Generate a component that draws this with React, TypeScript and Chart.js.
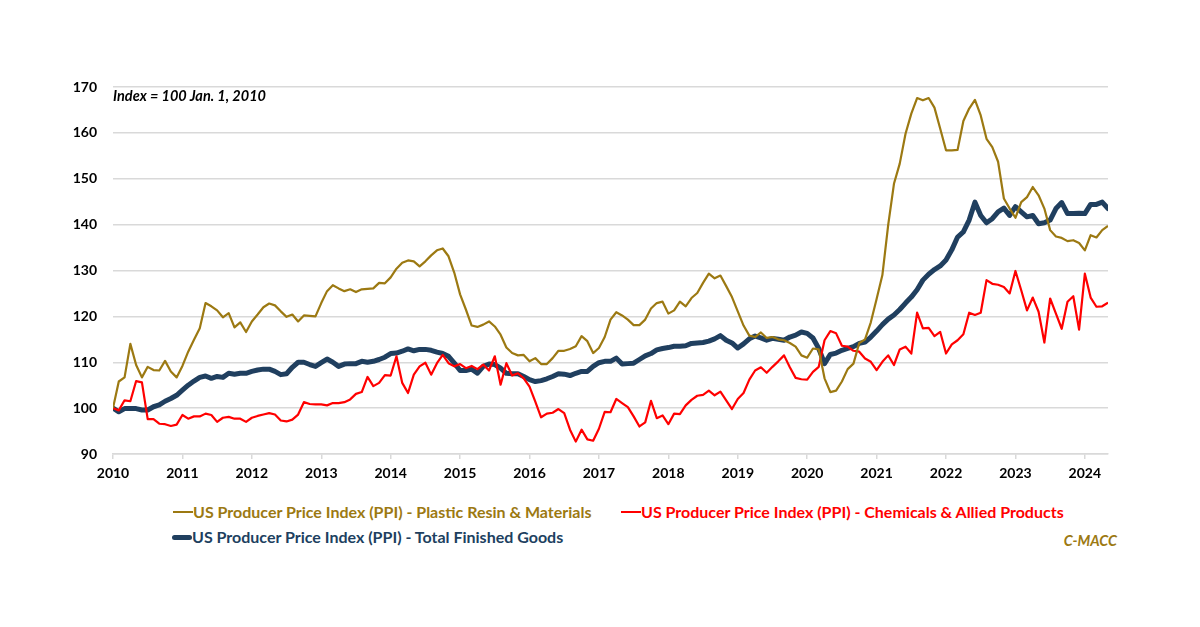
import React, { useEffect, useRef } from "react";
import Chart from "chart.js/auto";

// Monthly index values, Jan 2010 .. May 2024 (Index = 100 Jan. 1, 2010)
const START_YEAR = 2010;
const yearLabels = [2010, 2011, 2012, 2013, 2014, 2015, 2016, 2017, 2018, 2019, 2020, 2021, 2022, 2023, 2024];

const resinValues = [
  100.0, 105.8, 106.7, 114.0, 109.4, 106.7, 109.0, 108.3, 108.2, 110.3, 108.0, 106.7,
  109.2, 112.3, 114.9, 117.4, 122.9, 122.2, 121.3, 119.8, 120.7, 117.6, 118.7, 116.6,
  118.9, 120.4, 122.0, 122.8, 122.4, 121.1, 119.9, 120.4, 118.9, 120.2, 120.1, 120.0,
  122.9, 125.5, 126.8, 126.1, 125.5, 125.9, 125.3, 125.9, 126.0, 126.1, 127.3, 127.2,
  128.5, 130.4, 131.7, 132.2, 132.0, 130.9, 132.0, 133.3, 134.4, 134.8, 133.1, 129.5,
  124.8, 121.5, 118.0, 117.7, 118.2, 118.9, 117.8, 116.0, 113.2, 112.0, 111.5, 111.6,
  110.2, 110.9, 109.6, 109.6, 110.9, 112.5, 112.5, 112.9, 113.5, 115.7, 114.6, 112.0,
  113.1, 115.5, 119.3, 120.9, 120.2, 119.3, 118.1, 118.1, 119.3, 121.7, 122.9, 123.2,
  120.6, 121.3, 123.2, 122.2, 124.0, 125.1, 127.3, 129.3, 128.3, 128.9, 126.6, 124.2,
  121.1, 118.0, 115.8, 115.5, 116.5, 115.3, 115.5, 115.0, 114.8, 114.2, 113.4, 111.5,
  111.0, 113.0, 112.8, 106.5, 103.5, 103.8, 105.8, 108.5, 109.7, 114.2, 115.0, 118.7,
  123.8, 129.0, 139.9, 148.9, 153.3, 159.8, 164.2, 167.6, 167.1, 167.6, 165.5, 160.9,
  156.2, 156.2, 156.3, 162.6, 165.3, 167.2, 163.8, 158.7, 156.9, 153.7, 145.7, 143.5,
  141.5, 144.9, 146.0, 148.2, 146.4, 143.5, 138.8, 137.4, 137.1, 136.4, 136.6, 136.0,
  134.4, 137.7, 137.2, 138.8, 139.7,
];

const chemicalsValues = [
  100.0, 99.5, 101.7, 101.5, 105.9, 105.6, 97.6, 97.6, 96.6, 96.5, 96.1, 96.4,
  98.5, 97.7, 98.2, 98.2, 98.8, 98.5, 97.0, 97.9, 98.1, 97.7, 97.7, 97.0,
  97.9, 98.3, 98.6, 98.9, 98.6, 97.3, 97.1, 97.5, 98.6, 101.3, 100.9, 100.8,
  100.8, 100.6, 101.1, 101.1, 101.3, 101.9, 103.1, 103.5, 106.8, 104.8, 105.5, 107.2,
  107.1, 111.3, 105.5, 103.3, 107.3, 109.1, 109.9, 107.3, 109.8, 111.6, 109.8, 109.1,
  109.6, 108.7, 109.2, 108.5, 109.5, 108.2, 111.3, 105.1, 109.8, 107.1, 107.6, 106.5,
  104.7, 101.4, 98.0, 98.8, 99.0, 99.8, 98.9, 95.3, 92.7, 95.3, 93.2, 92.9,
  95.5, 99.2, 99.1, 102.0, 101.1, 100.2, 98.2, 96.0, 96.9, 101.6, 97.8, 98.4,
  96.5, 98.8, 98.7, 100.6, 101.8, 102.7, 102.9, 103.8, 102.8, 103.6, 101.7, 99.8,
  102.0, 103.3, 106.2, 108.2, 108.9, 107.7, 109.0, 110.2, 111.5, 108.9, 106.6, 106.3,
  106.2, 107.9, 109.0, 114.8, 116.8, 116.3, 113.6, 113.4, 112.5, 112.3, 110.8, 110.1,
  108.3, 110.1, 111.5, 109.4, 112.8, 113.4, 111.9, 120.8, 117.4, 117.5, 115.7, 116.6,
  111.9, 113.9, 114.8, 116.1, 120.8, 120.3, 120.8, 127.9, 127.1, 126.9, 126.4, 125.0,
  129.9, 125.7, 121.3, 124.1, 121.0, 114.3, 123.9, 120.6, 117.3, 123.2, 124.4, 117.1,
  129.3, 124.1, 122.1, 122.2, 123.0,
];

const finishedGoodsValues = [
  100.0, 99.2, 99.9, 99.9, 99.9, 99.6, 99.6, 100.3, 100.7, 101.5, 102.1, 102.8,
  103.9, 105.0, 105.9, 106.7, 107.0, 106.5, 106.9, 106.7, 107.6, 107.4, 107.6, 107.6,
  108.0, 108.3, 108.5, 108.5, 108.0, 107.3, 107.5, 108.9, 110.0, 110.0, 109.5, 109.1,
  109.9, 110.7, 110.0, 109.1, 109.6, 109.7, 109.7, 110.2, 110.0, 110.2, 110.6, 111.1,
  111.9, 112.0, 112.4, 112.9, 112.5, 112.8, 112.8, 112.6, 112.2, 111.9, 111.3, 109.8,
  108.2, 108.2, 108.5, 107.6, 109.1, 109.6, 109.5, 108.7, 107.6, 107.5, 107.5, 106.9,
  106.2, 105.8, 106.0, 106.4, 106.9, 107.5, 107.4, 107.1, 107.6, 108.0, 108.0, 109.1,
  109.9, 110.2, 110.2, 110.9, 109.6, 109.7, 109.8, 110.6, 111.4, 111.9, 112.7, 113.0,
  113.2, 113.5, 113.5, 113.6, 114.1, 114.2, 114.3, 114.6, 115.1, 115.8, 114.8, 114.2,
  113.1, 114.0, 115.1, 115.7, 115.3, 114.8, 115.2, 115.0, 114.8, 115.5, 115.9, 116.6,
  116.3, 115.3, 113.0, 109.7, 111.7, 112.0, 112.6, 113.0, 113.4, 114.1, 114.4, 115.5,
  116.8, 118.2, 119.4, 120.3, 121.5, 122.9, 124.2, 125.8, 127.9, 129.2, 130.2, 131.0,
  132.3, 134.5, 137.3, 138.4, 141.0, 144.9, 142.0, 140.4, 141.3, 142.8, 143.6, 142.0,
  143.9, 142.8, 141.7, 142.0, 140.2, 140.4, 141.0, 143.5, 144.8, 142.4, 142.4, 142.5,
  142.4, 144.4, 144.4, 144.9, 143.5,
];

const yTicks = [90, 100, 110, 120, 130, 140, 150, 160, 170];

const GOLD = "#9C7912";
const RED = "#FF0000";
const NAVY = "#203F5F";
const FONT = "Lato, 'Open Sans', sans-serif";

const seriesNames = [
  "US Producer Price Index (PPI) - Plastic Resin & Materials",
  "US Producer Price Index (PPI) - Chemicals & Allied Products",
  "US Producer Price Index (PPI) - Total Finished Goods",
];

const toPoints = (arr: number[]) => arr.map((y, x) => ({ x, y }));

export default function App() {
  const ref = useRef<HTMLCanvasElement | null>(null);

  useEffect(() => {
    document.body.style.margin = "0";
    const canvas = ref.current;
    if (!canvas) return;
    const lastIndex = resinValues.length - 1;
    const chart = new Chart(canvas, {
      type: "line",
      data: {
        datasets: [
          {
            label: seriesNames[0],
            data: toPoints(resinValues),
            borderColor: GOLD,
            borderWidth: 2.2,
            pointRadius: 0,
            tension: 0,
            borderJoinStyle: "round",
          },
          {
            label: seriesNames[1],
            data: toPoints(chemicalsValues),
            borderColor: RED,
            borderWidth: 2.2,
            pointRadius: 0,
            tension: 0,
            borderJoinStyle: "round",
          },
          {
            label: seriesNames[2],
            data: toPoints(finishedGoodsValues),
            borderColor: NAVY,
            borderWidth: 5,
            pointRadius: 0,
            tension: 0,
            borderJoinStyle: "round",
            borderCapStyle: "round",
          },
        ],
      },
      options: {
        animation: false,
        responsive: false,
        devicePixelRatio: 1,
        layout: { padding: { left: 0, right: 92, top: 87, bottom: 0 } },
        plugins: { legend: { display: false }, tooltip: { enabled: false }, title: { display: false } },
        scales: {
          x: {
            type: "linear",
            min: 0,
            max: lastIndex,
            afterFit: (scale: any) => {
              scale.height = 40;
            },
            afterBuildTicks: (scale: any) => {
              scale.ticks = yearLabels.map((y) => ({ value: (y - START_YEAR) * 12 }));
            },
            ticks: {
              includeBounds: false,
              autoSkip: false,
              maxRotation: 0,
              padding: 6,
              color: "#000",
              font: { family: FONT, size: 14, weight: "bold" },
              callback: (v: any) => String(START_YEAR + Math.round(Number(v) / 12)),
            },
            grid: {
              drawOnChartArea: false,
              drawTicks: true,
              tickLength: 5,
              color: "#d9d9d9",
              lineWidth: 1.5,
            },
            border: { display: true, color: "#d9d9d9", width: 1.5 },
          },
          y: {
            min: 90,
            max: 170,
            afterFit: (scale: any) => {
              scale.width = 113;
            },
            afterBuildTicks: (scale: any) => {
              scale.ticks = yTicks.map((v) => ({ value: v }));
            },
            ticks: {
              padding: 16,
              color: "#000",
              font: { family: FONT, size: 14, weight: "bold" },
            },
            grid: { color: "#d9d9d9", lineWidth: 1.5, drawTicks: false },
            border: { display: false },
          },
        },
      },
    } as any);
    return () => chart.destroy();
  }, []);

  const legendText = (color: string): React.CSSProperties => ({
    color,
    fontFamily: FONT,
    fontWeight: 700,
    fontSize: 16,
    whiteSpace: "nowrap",
    lineHeight: "20px",
  });

  const item = (left: number, top: number, color: string, thick: number, text: string) => (
    <div style={{ position: "absolute", left, top, display: "flex", alignItems: "center" }}>
      <span style={{ display: "inline-block", width: 20, height: thick, background: color, borderRadius: thick > 3 ? 3 : 0 }} />
      <span style={legendText(color)}>{text}</span>
    </div>
  );

  return (
    <div style={{ position: "relative", width: 1200, height: 627, background: "#fff", overflow: "hidden" }}>
      <canvas ref={ref} width={1200} height={494} style={{ position: "absolute", left: 0, top: 0, width: 1200, height: 494 }} />
      <div
        style={{
          position: "absolute",
          left: 113,
          top: 87,
          fontFamily: FONT,
          fontWeight: 700,
          fontStyle: "italic",
          fontSize: 14.5,
          color: "#000",
          whiteSpace: "nowrap",
        }}
      >
        Index = 100 Jan. 1, 2010
      </div>
      {item(173, 502, GOLD, 2, seriesNames[0])}
      {item(621, 502, RED, 2, seriesNames[1])}
      {item(172, 527, NAVY, 5, seriesNames[2])}
      <div
        style={{
          position: "absolute",
          right: 83,
          top: 532,
          fontFamily: FONT,
          fontWeight: 700,
          fontStyle: "italic",
          fontSize: 14.5,
          color: GOLD,
        }}
      >
        C-MACC
      </div>
    </div>
  );
}
